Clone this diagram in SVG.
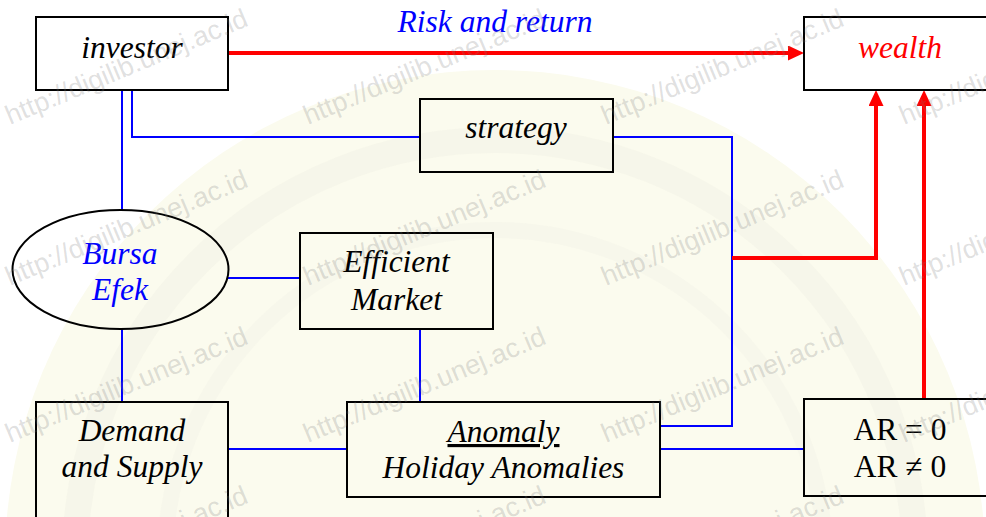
<svg xmlns="http://www.w3.org/2000/svg" width="986" height="517" viewBox="0 0 986 517">
  <defs>
    <style>
      .box { fill: none; stroke: #000; stroke-width: 2; }
      .blue { fill: #0000ff; }
      .red { fill: #ff0000; }
      .link { fill: none; stroke: #0000ff; stroke-width: 2; }
      .flow { fill: none; stroke: #ff0000; stroke-width: 4; stroke-linejoin: miter; }
    </style>
    <marker id="head" markerUnits="userSpaceOnUse" markerWidth="16" markerHeight="15" refX="6" refY="7.5" orient="auto">
      <path d="M0,0 L16,7.5 L0,15 z" fill="#ff0000"/>
    </marker>
    <g id="wmrow" font-family="Liberation Sans, Arial, sans-serif" font-size="27" fill="#7a7a7a" fill-opacity="0.24">
      <text transform="translate(10,0) rotate(-22.6)">http://digilib.unej.ac.id</text>
      <text transform="translate(308,0) rotate(-22.6)">http://digilib.unej.ac.id</text>
      <text transform="translate(606,0) rotate(-22.6)">http://digilib.unej.ac.id</text>
      <text transform="translate(904,0) rotate(-22.6)">http://digilib.unej.ac.id</text>
    </g>
  </defs>

  <!-- page background with faint seal -->
  <rect width="986" height="517" fill="#ffffff"/>
  <circle cx="495" cy="560" r="490" fill="#fbfbee"/>
  <circle cx="495" cy="560" r="420" fill="none" stroke="#f0f0e4" stroke-width="26" stroke-opacity="0.4"/>
  <circle cx="495" cy="560" r="330" fill="none" stroke="#f0f0e4" stroke-width="16" stroke-opacity="0.3"/>

  <!-- connectors -->
  <g id="connectors">
    <path class="link" d="M122,90 V211"/>
    <path class="link" d="M132,90 V137 H420"/>
    <path class="link" d="M613,137 H732 V426 H660"/>
    <path class="link" d="M227,278 H300"/>
    <path class="link" d="M122,329 V402"/>
    <path class="link" d="M420,329 V402"/>
    <path class="link" d="M228,449 H347"/>
    <path class="link" d="M660,449 H804"/>
    <path class="flow" d="M229,53 H794" marker-end="url(#head)"/>
    <path class="flow" d="M732,258 H876 V100" marker-end="url(#head)"/>
    <path class="flow" d="M924,399 V100" marker-end="url(#head)"/>
    <text class="blue" x="495" y="32" font-family="Liberation Serif, Times New Roman, serif" font-style="italic" font-size="31.5" text-anchor="middle">Risk and return</text>
  </g>

  <!-- nodes -->
  <g font-family="Liberation Serif, Times New Roman, serif" font-style="italic" font-size="31.5" text-anchor="middle" fill="#000">
    <g id="investor">
      <rect class="box" x="36" y="17" width="192" height="73"/>
      <text x="132" y="58">investor</text>
    </g>
    <g id="wealth">
      <rect class="box" x="804" y="17" width="192" height="73"/>
      <text class="red" x="900" y="58">wealth</text>
    </g>
    <g id="strategy">
      <rect class="box" x="420" y="99" width="193" height="73"/>
      <text x="516" y="138">strategy</text>
    </g>
    <g id="bursa-efek">
      <ellipse cx="120.5" cy="269.5" rx="108" ry="59.5" fill="none" stroke="#000" stroke-width="2"/>
      <text class="blue" x="120" y="264">Bursa</text>
      <text class="blue" x="120" y="300">Efek</text>
    </g>
    <g id="efficient-market">
      <rect class="box" x="300" y="233" width="193" height="96"/>
      <text x="396.5" y="272">Efficient</text>
      <text x="396.5" y="310">Market</text>
    </g>
    <g id="demand-supply">
      <rect class="box" x="36" y="402" width="192" height="130"/>
      <text x="132" y="441">Demand</text>
      <text x="132" y="477">and Supply</text>
    </g>
    <g id="anomaly">
      <rect class="box" x="347" y="402" width="313" height="95"/>
      <text x="503.5" y="442" text-decoration="underline">Anomaly</text>
      <text x="503.5" y="478">Holiday Anomalies</text>
    </g>
    <g id="abnormal-return" font-style="normal">
      <rect class="box" x="804" y="399" width="192" height="97"/>
      <text x="900" y="440">AR = 0</text>
      <text x="900" y="477">AR ≠ 0</text>
    </g>
  </g>

  <!-- repository watermark -->
  <g id="watermark">
    <use href="#wmrow" y="125"/>
    <use href="#wmrow" y="286"/>
    <use href="#wmrow" y="443"/>
    <use href="#wmrow" y="602"/>
  </g>
</svg>
